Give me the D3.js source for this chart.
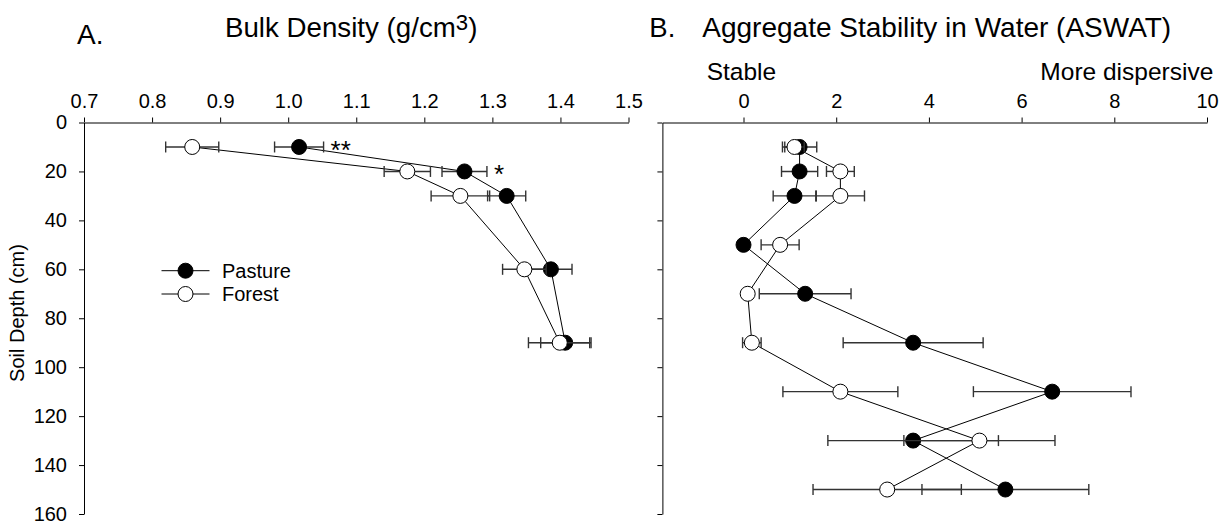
<!DOCTYPE html>
<html><head><meta charset="utf-8">
<script src="https://cdn.jsdelivr.net/npm/d3@7"></script>
<style>
html,body{margin:0;padding:0;background:#fff;}
svg{display:block;font-family:"Liberation Sans",Arial,Helvetica,sans-serif;}
</style></head><body>
<svg id="chart" width="1226" height="524"></svg>
<script>
// Panel A: bulk density (g/cm3) by soil depth
const bdDepths = [10, 20, 30, 60, 90];
const bdPasture = [1.016, 1.259, 1.321, 1.386, 1.407];
const bdPastureErr = [0.036, 0.033, 0.028, 0.031, 0.036];
const bdForest = [0.859, 1.175, 1.253, 1.347, 1.399];
const bdForestErr = [0.039, 0.034, 0.043, 0.032, 0.046];
const bdTicks = [0.7, 0.8, 0.9, 1.0, 1.1, 1.2, 1.3, 1.4, 1.5];
const sigLabels = ["**", "*"];
const sigDepths = [10, 20];

// Panel B: aggregate stability in water (ASWAT) by soil depth
const asDepths = [10, 20, 30, 50, 70, 90, 110, 130, 150];
const asPasture = [1.21, 1.21, 1.10, 0.00, 1.33, 3.66, 6.66, 3.66, 5.65];
const asPastureErr = [0.37, 0.39, 0.46, 0.00, 0.99, 1.51, 1.70, 1.84, 1.80];
const asForest = [1.10, 2.09, 2.09, 0.79, 0.09, 0.18, 2.09, 5.09, 3.10];
const asForestErr = [0.21, 0.30, 0.52, 0.41, 0.00, 0.20, 1.24, 1.63, 1.60];
const asTicks = [0, 2, 4, 6, 8, 10];

const depthTicks = [0, 20, 40, 60, 80, 100, 120, 140, 160];
const seriesNames = ["Pasture", "Forest"];

const svg = d3.select("#chart");
const R = 7.5, CAP = 5.5;
const tickFont = "20px";

const y = d3.scaleLinear().domain([0, 160]).range([122.5, 514]);
const xA = d3.scaleLinear().domain([0.7, 1.5]).range([84, 628.5]);
const xB = d3.scaleLinear().domain([-1.75, 10]).range([662.4, 1207]);

function styleAxis(g) {
  g.selectAll("path.domain").attr("stroke", "#000").attr("stroke-width", 1);
  g.selectAll(".tick line").attr("stroke", "#000").attr("stroke-width", 1);
  g.selectAll("text").attr("font-size", tickFont).attr("fill", "#000")
    .attr("font-family", "'Liberation Sans', Arial, sans-serif");
}

// ---- axes, panel A
svg.append("g").attr("transform", `translate(0,${y(0)})`)
  .call(d3.axisTop(xA).tickValues(bdTicks).tickFormat(d3.format(".1f"))
    .tickSize(5).tickSizeOuter(0).tickPadding(10))
  .call(styleAxis);
svg.append("g").attr("transform", `translate(${xA(0.7)},0)`)
  .call(d3.axisLeft(y).tickValues(depthTicks).tickSize(5).tickSizeOuter(0).tickPadding(12))
  .call(styleAxis);

// ---- axes, panel B
svg.append("g").attr("transform", `translate(0,${y(0)})`)
  .call(d3.axisTop(xB).tickValues(asTicks).tickFormat(d3.format("d"))
    .tickSize(5).tickSizeOuter(0).tickPadding(10))
  .call(styleAxis);
svg.append("g").attr("transform", `translate(${xB.range()[0]},0)`)
  .call(d3.axisLeft(y).tickValues(depthTicks).tickFormat("").tickSize(5).tickSizeOuter(0))
  .call(styleAxis);

// ---- titles and labels
svg.append("text").attr("x", 77).attr("y", 43.5).attr("font-size", "28px").text("A.");
const tA = svg.append("text").attr("x", 225).attr("y", 36.7).attr("font-size", "27.7px");
tA.append("tspan").text("Bulk Density (g/cm");
tA.append("tspan").attr("dy", "-0.28em").attr("font-size", "0.8em").text("3");
tA.append("tspan").attr("dy", "0.224em").text(")");

svg.append("text").attr("x", 649.3).attr("y", 36.7).attr("font-size", "27.5px").text("B.");
svg.append("text").attr("x", 702.3).attr("y", 36.7).attr("font-size", "28px")
  .text("Aggregate Stability in Water (ASWAT)");
svg.append("text").attr("x", 706.7).attr("y", 80).attr("font-size", "24.5px").text("Stable");
svg.append("text").attr("x", 1213.3).attr("y", 80).attr("font-size", "24.5px")
  .attr("text-anchor", "end").text("More dispersive");

svg.append("text").attr("transform", "translate(24,313) rotate(-90)")
  .attr("text-anchor", "middle").attr("font-size", "20px").text("Soil Depth (cm)");

// ---- series drawing
function drawSeries(x, depths, means, errs, fill) {
  const pts = depths.map((d, i) => ({ d, m: means[i], e: errs[i] }));
  const g = svg.append("g");
  g.append("path").datum(pts)
    .attr("fill", "none").attr("stroke", "#000").attr("stroke-width", 1)
    .attr("d", d3.line().x(p => x(p.m)).y(p => y(p.d)));
  return { g, pts, x, fill };
}
function drawErrors(s) {
  const eb = s.g.selectAll("g.eb").data(s.pts.filter(p => p.e > 0)).join("g")
    .attr("stroke", "#333").attr("stroke-width", 1.4);
  eb.append("line").attr("x1", p => s.x(p.m - p.e)).attr("x2", p => s.x(p.m + p.e))
    .attr("y1", p => y(p.d)).attr("y2", p => y(p.d));
  eb.append("line").attr("x1", p => s.x(p.m - p.e)).attr("x2", p => s.x(p.m - p.e))
    .attr("y1", p => y(p.d) - CAP).attr("y2", p => y(p.d) + CAP);
  eb.append("line").attr("x1", p => s.x(p.m + p.e)).attr("x2", p => s.x(p.m + p.e))
    .attr("y1", p => y(p.d) - CAP).attr("y2", p => y(p.d) + CAP);
}
function drawMarkers(s) {
  s.g.selectAll("circle").data(s.pts).join("circle")
    .attr("cx", p => s.x(p.m)).attr("cy", p => y(p.d)).attr("r", R)
    .attr("fill", s.fill).attr("stroke", "#000").attr("stroke-width", 1);
}

const fills = ["#000", "#fff"];
const panels = [
  [xA, bdDepths, [bdPasture, bdForest], [bdPastureErr, bdForestErr]],
  [xB, asDepths, [asPasture, asForest], [asPastureErr, asForestErr]]
];
panels.forEach(([x, depths, means, errs]) => {
  const s = means.map((m, k) => drawSeries(x, depths, m, errs[k], fills[k]));
  s.forEach(drawErrors);
  s.forEach(drawMarkers);
});

// ---- significance marks next to pasture error bars (panel A)
sigLabels.forEach((lab, i) => {
  const k = bdDepths.indexOf(sigDepths[i]);
  svg.append("text")
    .attr("x", xA(bdPasture[k] + bdPastureErr[k]) + 7)
    .attr("y", y(sigDepths[i]) + 12)
    .attr("font-size", "26px").text(lab);
});

// ---- legend
const legY = [270.7, 294];
seriesNames.forEach((name, k) => {
  const g = svg.append("g").attr("transform", `translate(0,${legY[k]})`);
  g.append("line").attr("x1", 161.5).attr("x2", 209.5).attr("y1", 0).attr("y2", 0)
    .attr("stroke", "#000").attr("stroke-width", 1);
  g.append("circle").attr("cx", 185.5).attr("cy", 0).attr("r", R)
    .attr("fill", fills[k]).attr("stroke", "#000");
  g.append("text").attr("x", 222).attr("y", 0).attr("dy", "0.35em")
    .attr("font-size", "20px").text(name);
});
</script>
</body></html>
